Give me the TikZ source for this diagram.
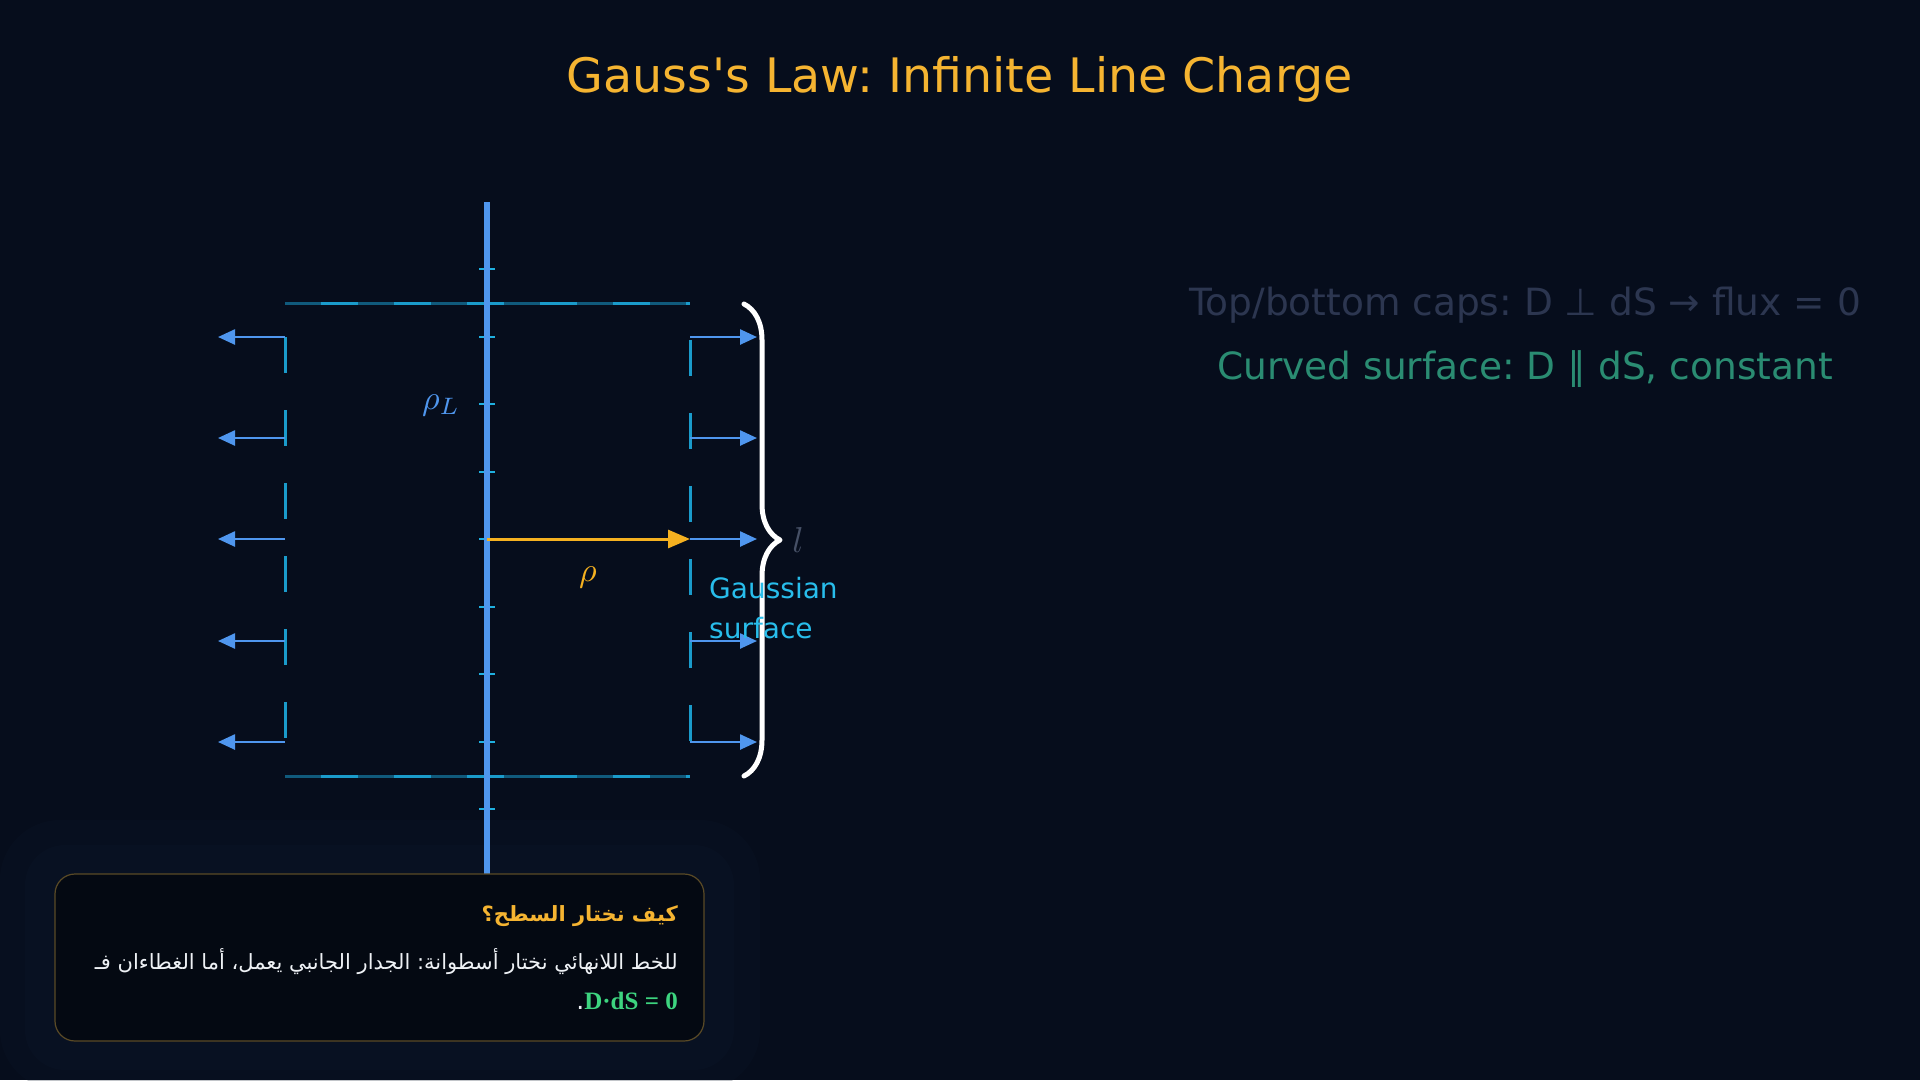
\documentclass[tikz,border=0pt]{standalone}
\usepackage{fontspec}
\setmainfont{DejaVu Sans}[Ligatures=TeXOff]
\newfontfamily\arabicfont[Script=Arabic]{DejaVu Sans}
\newfontfamily\timesbold{Liberation Serif}
\usetikzlibrary{arrows.meta,decorations.pathreplacing}
\TeXXeTstate=1
\frenchspacing
\definecolor{bgnavy}{HTML}{060D1C}
\definecolor{halo}{HTML}{0D1729}
\definecolor{boxfill}{HTML}{040912}
\definecolor{boxborder}{HTML}{5A4A26}
\definecolor{amber}{HTML}{F5B431}
\definecolor{chargeblue}{HTML}{4F96EE}
\definecolor{tickcyan}{HTML}{1FB0E0}
\definecolor{surfcyan}{HTML}{1A9BCB}
\definecolor{gausscyan}{HTML}{28BDEB}
\definecolor{rhoorange}{HTML}{F5B120}
\definecolor{lgrey}{HTML}{465066}
\definecolor{capsgrey}{HTML}{2C3650}
\definecolor{curvedgreen}{HTML}{2A8C72}
\definecolor{mint}{HTML}{3DD47F}
\definecolor{arabicwhite}{HTML}{EEF1F5}
\begin{document}
\begin{tikzpicture}[x=1pt,y=-1pt,line join=round,>={Triangle[length=17pt,width=15pt]}]
		\tikzset{every node/.style={inner sep=0pt},
			flux/.style={->,chargeblue,line width=2.5pt},
			surf/.style={surfcyan,line width=3pt,dash pattern=on 36pt off 37pt},
			capline/.style={surfcyan,line width=3pt},
			arabic/.style={anchor=east,font=\arabicfont\fontsize{21}{30}\selectfont}}
		\fill[bgnavy] (0,0) rectangle (1920,1080);
		\useasboundingbox (0,0) rectangle (1920,1080);
		\fill[halo,opacity=0.25,rounded corners=60pt] (0,820) rectangle (760,1090);
		\fill[halo,opacity=0.3,rounded corners=40pt] (25,845) rectangle (734,1070);
		\node[text=amber,font=\fontsize{47.5}{56}\selectfont] (title) at (960,79) {Gauss's Law: Infinite Line Charge};
		\draw[capline,opacity=0.55] (285,303)--(690,303);
		\draw[capline,dash pattern=on 37pt off 36pt,dash phase=37pt] (285,303)--(690,303);
		\draw[capline,opacity=0.55] (285,776)--(690,776);
		\draw[capline,dash pattern=on 37pt off 36pt,dash phase=37pt] (285,776)--(690,776);
		\draw[surf] (285,337)--(285,742);
		\draw[surf] (690,340)--(690,745);
		\foreach \y in {337,438,539,641,742}
		{\draw[flux] (285,\y)--(218,\y);
		\draw[flux] (690,\y)--(757,\y);}
		\foreach \y in {269,336.5,...,810}
		\draw[tickcyan,line width=2pt] (479,\y)--(495,\y);
		\draw[chargeblue,line width=6pt] (487,202)--(487,874);
		\coordinate (axis) at (487,539);
		\coordinate (rim) at (690,539);
		\draw[rhoorange,line width=3pt,-{Triangle[length=22pt,width=18pt]}] (axis)--(rim);
		\draw[white,line width=5pt,line cap=round,decorate,decoration={brace,amplitude=36pt}] (744,304)--(744,776);
		\node[text=chargeblue,scale=3.4] (rhoL) at (441,405) {$\rho_L$};
		\node[text=rhoorange,scale=3.4] (rho) at (588,577) {$\rho$};
		\node[text=lgrey,scale=3.6] (len) at (798,540) {$l$};
		\node[text=gausscyan,anchor=west,align=left,font=\fontsize{28}{40}\selectfont] (gauss) at (709,608) {Gaussian\\surface};
		\node[text=capsgrey,font=\fontsize{37.5}{44}\selectfont] (caps) at (1525,305) {Top/bottom caps: D ⊥ dS → flux = 0};
		\node[text=curvedgreen,font=\fontsize{37.5}{44}\selectfont] (curved) at (1525,369) {Curved surface: D ∥ dS, constant};
		\node[draw=boxborder,fill=boxfill,line width=1.2pt,rounded corners=20pt,minimum width=649pt,minimum height=167pt] (note) at (379.5,957.5) {};
		\node[arabic,text=amber,font=\arabicfont\bfseries\fontsize{21}{30}\selectfont] (ask) at (678,916) {\beginR كيف نختار السطح؟\endR};
		\node[arabic,text=arabicwhite] (why) at (678,962) {\beginR للخط اللانهائي نختار أسطوانة: الجدار الجانبي يعمل، أما الغطاءان فـ\endR};
		\node[arabic,text=arabicwhite,font=\arabicfont\fontsize{25}{30}\selectfont] (zero) at (678,1001) {\beginR\beginL{\timesbold\bfseries\color{mint}D·dS = 0}\endL.\endR};
	\end{tikzpicture}
\end{document}
